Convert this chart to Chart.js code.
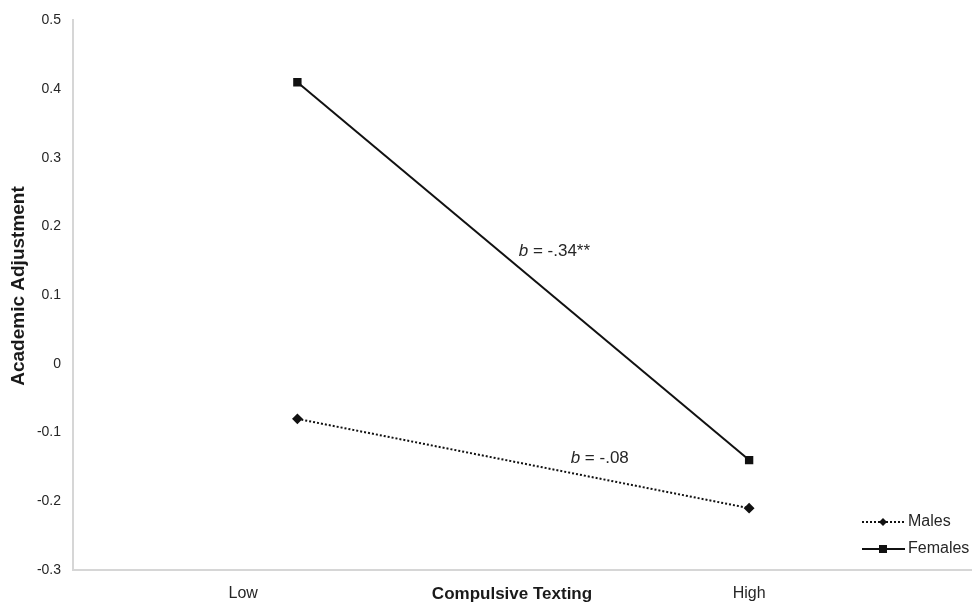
<!DOCTYPE html>
<html>
<head>
<meta charset="utf-8">
<script src="https://cdn.jsdelivr.net/npm/chart.js@4.4.1/dist/chart.umd.min.js"></script>
<style>
  html, body { margin: 0; padding: 0; background: #fff; overflow: hidden; }
  #wrap { width: 980px; height: 604px; }
</style>
</head>
<body>
<div id="wrap"><canvas id="chart"></canvas></div>
<script>
// x: 0 = Low point, 1 = High point
const xPoints = [0, 1];
const males = [-0.08, -0.21];
const females = [0.41, -0.14];
const xTickValues = [-0.12, 1];
const xTickLabels = ['Low', 'High'];
const seriesNames = ['Males', 'Females'];
const notes = [
    { x: 0.49, y: 0.164, text: '= -.34**' },
    { x: 0.605, y: -0.138, text: '= -.08' }
];

const textColor = '#262626';
const font = 'Liberation Sans, Arial, sans-serif';

const extras = {
    id: 'extras',
    afterDraw(chart) {
        const { ctx, scales: { x, y } } = chart;
        ctx.save();
        ctx.textBaseline = 'middle';

        // x tick labels
        ctx.fillStyle = textColor;
        ctx.font = '16px ' + font;
        ctx.textAlign = 'center';
        xTickValues.forEach((v, i) => {
            ctx.fillText(xTickLabels[i], x.getPixelForValue(v), 594);
        });

        // axis titles
        ctx.fillStyle = '#1a1a1a';
        ctx.font = 'bold 17px ' + font;
        ctx.fillText('Compulsive Texting', 512, 594);
        ctx.save();
        ctx.translate(19, 286);
        ctx.rotate(-Math.PI / 2);
        ctx.font = 'bold 19px ' + font;
        ctx.fillText('Academic Adjustment', 0, 0);
        ctx.restore();

        // slope notes
        notes.forEach(n => {
            const px = x.getPixelForValue(n.x);
            const py = y.getPixelForValue(n.y);
            ctx.textAlign = 'left';
            ctx.fillStyle = textColor;
            ctx.font = 'italic 17px ' + font;
            ctx.fillText('b', px, py);
            const w = ctx.measureText('b ').width;
            ctx.font = '17px ' + font;
            ctx.fillText(n.text, px + w, py);
        });

        // legend
        const rows = [
            { name: seriesNames[0], y: 522, dash: [2, 2], marker: 'diamond' },
            { name: seriesNames[1], y: 549, dash: [], marker: 'square' }
        ];
        rows.forEach(r => {
            ctx.strokeStyle = '#111';
            ctx.lineWidth = 2;
            ctx.setLineDash(r.dash);
            ctx.beginPath();
            ctx.moveTo(862, r.y);
            ctx.lineTo(905, r.y);
            ctx.stroke();
            ctx.setLineDash([]);
            ctx.fillStyle = '#111';
            if (r.marker === 'square') {
                ctx.fillRect(879, r.y - 4, 8, 8);
            } else {
                ctx.beginPath();
                ctx.moveTo(883, r.y - 4);
                ctx.lineTo(887, r.y);
                ctx.lineTo(883, r.y + 4);
                ctx.lineTo(879, r.y);
                ctx.closePath();
                ctx.fill();
            }
            ctx.fillStyle = textColor;
            ctx.font = '16px ' + font;
            ctx.textAlign = 'left';
            ctx.fillText(r.name, 908, r.y);
        });
        ctx.restore();
    }
};

const ctx = document.getElementById('chart').getContext('2d');
const chart = new Chart(ctx, {
    type: 'line',
    data: {
        datasets: [{
            label: seriesNames[0],
            data: xPoints.map((v, i) => ({ x: v, y: males[i] })),
            borderColor: '#111',
            backgroundColor: '#111',
            borderWidth: 2,
            borderDash: [2, 2],
            pointStyle: 'rectRot',
            pointRadius: 4,
            pointHoverRadius: 4
        }, {
            label: seriesNames[1],
            data: xPoints.map((v, i) => ({ x: v, y: females[i] })),
            borderColor: '#111',
            backgroundColor: '#111',
            borderWidth: 2,
            pointStyle: 'rect',
            pointRadius: 4.5,
            pointHoverRadius: 4.5
        }]
    },
    options: {
        responsive: true,
        maintainAspectRatio: false,
        animation: false,
        layout: { padding: { top: 17, right: 0, left: 0, bottom: 0 } },
        plugins: {
            legend: { display: false },
            tooltip: { enabled: false }
        },
        scales: {
            x: {
                type: 'linear',
                min: -0.4967,
                max: 1.4967,
                afterFit(scale) { scale.height = 34; },
                ticks: { display: false },
                grid: { display: false, drawTicks: false },
                border: { display: true, color: '#d6d6d6', width: 2 }
            },
            y: {
                min: -0.3,
                max: 0.5,
                afterFit(scale) { scale.width = 73; },
                ticks: {
                    stepSize: 0.1,
                    padding: 12,
                    color: textColor,
                    font: { family: font, size: 14 },
                    callback: v => String(Math.round(v * 10) / 10)
                },
                grid: { display: false, drawTicks: false },
                border: { display: true, color: '#d6d6d6', width: 2 }
            }
        }
    },
    plugins: [extras]
});
</script>
</body>
</html>
